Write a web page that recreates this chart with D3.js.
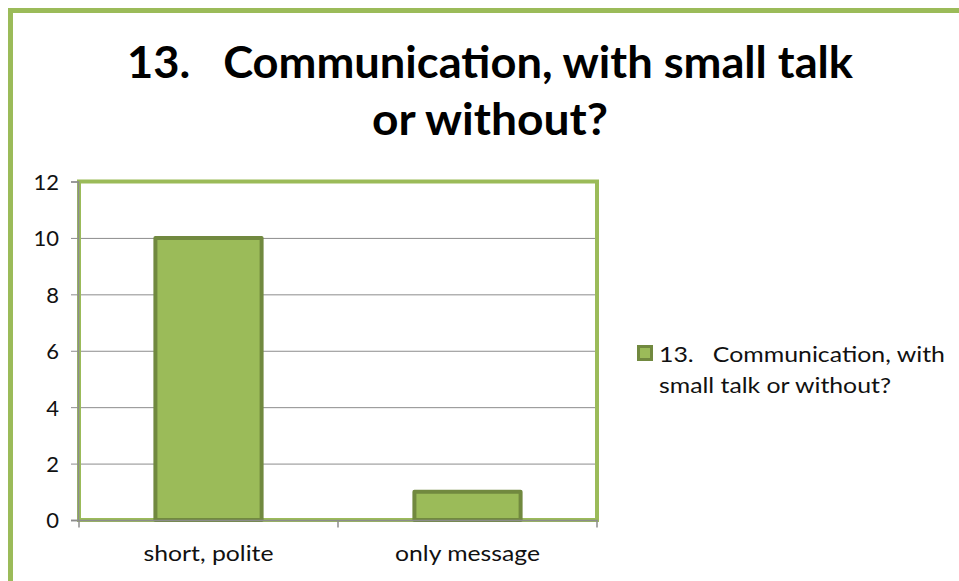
<!DOCTYPE html>
<html>
<head>
<meta charset="utf-8">
<script src="https://cdn.jsdelivr.net/npm/d3@7"></script>
<style>
  html, body { margin: 0; padding: 0; background: #fff; }
  svg text { font-family: Lato, "Open Sans", sans-serif; white-space: pre; }
</style>
</head>
<body>
<svg id="chart" width="959" height="581"></svg>
<script>
// Survey answers for question 13
const categories = ["short, polite", "only message"];
const counts = [10, 1];
const yTicks = [0, 2, 4, 6, 8, 10, 12];
const titleLines = ["13.   Communication, with small talk", "or without?"];
const legendLines = ["13.   Communication, with", "small talk or without?"];

const svg = d3.select("#chart");
const green = "#9bbb59", darkGreen = "#71893f", grid = "#8c8c8c";

// fit a text element to a given width
function fitWidth(sel, w) {
  sel.attr("textLength", w).attr("lengthAdjust", "spacingAndGlyphs");
}

// outer chart frame (runs off the right and bottom edges)
svg.append("path")
  .attr("d", "M10.5,600 L10.5,10.5 L980,10.5")
  .attr("fill", "none").attr("stroke", green).attr("stroke-width", 5);

// title
const titleWidths = [726, 236];
svg.append("g").selectAll("text").data(titleLines).join("text")
  .attr("x", 490).attr("y", (d, i) => 78 + i * 57)
  .attr("text-anchor", "middle")
  .attr("font-size", 44).attr("font-weight", "bold").attr("fill", "#000")
  .text(d => d)
  .each(function (d, i) { fitWidth(d3.select(this), titleWidths[i]); });

const plot = { left: 79, right: 597, top: 181.5, bottom: 520 };

const x = d3.scaleBand().domain(categories)
  .range([plot.left, plot.right]).paddingInner(0.59).paddingOuter(0.295);
const y = d3.scaleLinear().domain([0, 12]).range([plot.bottom, plot.top]);

// gridlines
svg.append("g").selectAll("line").data(yTicks.filter(t => t > 0 && t < 12)).join("line")
  .attr("x1", plot.left).attr("x2", plot.right)
  .attr("y1", d => y(d) + 0.5).attr("y2", d => y(d) + 0.5)
  .attr("stroke", grid).attr("stroke-width", 1);

// plot-area frame
svg.append("rect")
  .attr("x", plot.left).attr("y", plot.top)
  .attr("width", plot.right - plot.left).attr("height", plot.bottom - plot.top)
  .attr("fill", "none").attr("stroke", green).attr("stroke-width", 4);

// bars
svg.append("g").selectAll("rect").data(counts).join("rect")
  .attr("x", (d, i) => x(categories[i]))
  .attr("y", d => y(d))
  .attr("width", x.bandwidth())
  .attr("height", d => y(0) - y(d))
  .attr("fill", green).attr("stroke", darkGreen).attr("stroke-width", 4)
  .attr("stroke-linejoin", "round");

// y axis
const yAxis = svg.append("g").attr("transform", `translate(${plot.left - 1},0)`)
  .call(d3.axisLeft(y).tickValues(yTicks).tickSize(7).tickPadding(12));
yAxis.select(".domain").attr("stroke", grid).attr("stroke-width", 1.5);
yAxis.selectAll(".tick line").attr("stroke", grid);
yAxis.selectAll(".tick text").attr("font-size", 22).attr("fill", "#111")
  .attr("font-family", "Lato, sans-serif").attr("dy", "0.36em");

// x axis with category dividers
const xAxis = svg.append("g").attr("transform", `translate(0,${plot.bottom + 0.5})`);
xAxis.append("line").attr("x1", plot.left - 8).attr("x2", plot.right + 1)
  .attr("stroke", grid).attr("stroke-width", 1.5);
const dividers = d3.range(categories.length + 1).map(i => plot.left + i * (plot.right - plot.left) / categories.length);
xAxis.selectAll("line.div").data(dividers).join("line").attr("class", "div")
  .attr("x1", d => d).attr("x2", d => d).attr("y1", 0).attr("y2", 7)
  .attr("stroke", grid).attr("stroke-width", 1.5);
const catWidths = [130, 145];
xAxis.selectAll("text").data(categories).join("text")
  .attr("x", d => x(d) + x.bandwidth() / 2).attr("y", 40)
  .attr("text-anchor", "middle").attr("font-size", 22).attr("fill", "#111")
  .text(d => d)
  .each(function (d, i) { fitWidth(d3.select(this), catWidths[i]); });

// legend
const legend = svg.append("g");
legend.append("rect").attr("x", 638.5).attr("y", 346.5).attr("width", 13).attr("height", 13)
  .attr("fill", green).attr("stroke", darkGreen).attr("stroke-width", 3);
const legendWidths = [286, 232];
legend.selectAll("text").data(legendLines).join("text")
  .attr("x", 659).attr("y", (d, i) => 362 + i * 31)
  .attr("font-size", 22).attr("fill", "#111")
  .text(d => d)
  .each(function (d, i) { fitWidth(d3.select(this), legendWidths[i]); });
</script>
</body>
</html>
